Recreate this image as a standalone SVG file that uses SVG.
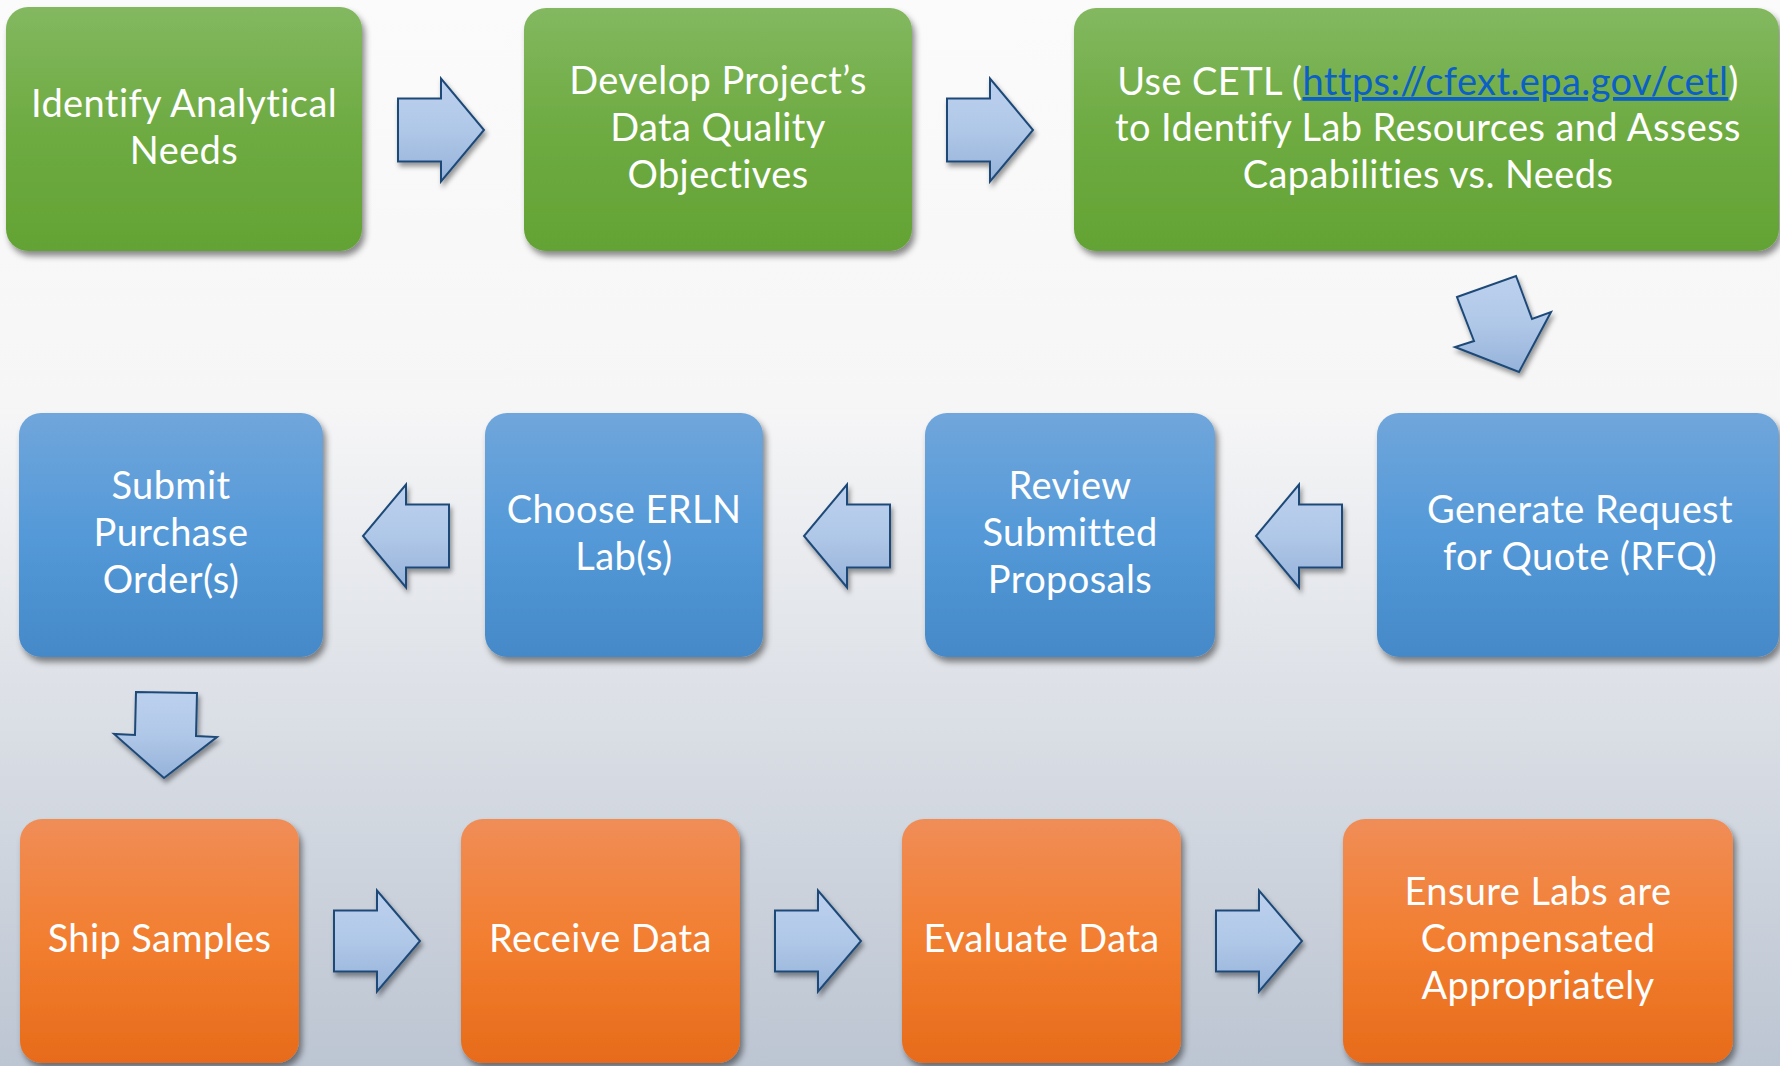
<svg xmlns="http://www.w3.org/2000/svg" width="1780" height="1066" viewBox="0 0 1780 1066">
<defs>
<linearGradient id="bg" x1="0" y1="0" x2="0" y2="1">
<stop offset="0" stop-color="#fbfbfb"/>
<stop offset="0.38" stop-color="#f6f6f7"/>
<stop offset="1" stop-color="#bcc5d2"/>
</linearGradient>
<linearGradient id="gGreen" x1="0" y1="0" x2="0" y2="1">
<stop offset="0" stop-color="#83b860"/>
<stop offset="0.5" stop-color="#6eab42"/>
<stop offset="1" stop-color="#63a334"/>
</linearGradient>
<linearGradient id="gBlue" x1="0" y1="0" x2="0" y2="1">
<stop offset="0" stop-color="#70a6db"/>
<stop offset="0.5" stop-color="#5499d8"/>
<stop offset="1" stop-color="#4589c8"/>
</linearGradient>
<linearGradient id="gOrange" x1="0" y1="0" x2="0" y2="1">
<stop offset="0" stop-color="#f08d57"/>
<stop offset="0.5" stop-color="#f27e30"/>
<stop offset="1" stop-color="#e76b1a"/>
</linearGradient>
<linearGradient id="gArrow" x1="0" y1="0" x2="0" y2="1">
<stop offset="0" stop-color="#bdd1ee"/>
<stop offset="0.5" stop-color="#b0c8e8"/>
<stop offset="1" stop-color="#95b2d9"/>
</linearGradient>
<filter id="shadow" x="-10%" y="-10%" width="125%" height="125%">
<feDropShadow dx="3" dy="5" stdDeviation="3" flood-color="#000" flood-opacity="0.45"/>
</filter>
<filter id="ashadow" x="-20%" y="-20%" width="150%" height="150%">
<feDropShadow dx="2" dy="4" stdDeviation="2.5" flood-color="#000" flood-opacity="0.4"/>
</filter>
</defs>
<style>
.box{filter:url(#shadow)}
.green{fill:url(#gGreen)}
.blue{fill:url(#gBlue)}
.orange{fill:url(#gOrange)}
.lbl{font-family:Lato,"Liberation Sans",sans-serif;font-size:38px;letter-spacing:0.4px;fill:#ffffff;text-anchor:middle}
.link{fill:#0b5fc6;text-decoration:underline}
.arrow{fill:url(#gArrow);stroke:#1f4a78;stroke-width:2;stroke-linejoin:miter;filter:url(#ashadow)}
</style>
<rect x="0" y="0" width="1780" height="1066" fill="url(#bg)"/>

<g id="connectors">
<polygon class="arrow" points="398,98.5 441,98.5 441,78.5 484,130 441,181.5 441,161.5 398,161.5"/>
<polygon class="arrow" points="947,98.5 990,98.5 990,78.5 1033,130 990,181.5 990,161.5 947,161.5"/>
<polygon class="arrow" points="1457,297 1516,276 1532,319 1551,312 1519,372 1455,347 1474,341"/>
<polygon class="arrow" points="1342,504.5 1299,504.5 1299,484.5 1256,536 1299,587.5 1299,567.5 1342,567.5"/>
<polygon class="arrow" points="890,504.5 847,504.5 847,484.5 804,536 847,587.5 847,567.5 890,567.5"/>
<polygon class="arrow" points="449,504.5 406,504.5 406,484.5 363,536 406,587.5 406,567.5 449,567.5"/>
<polygon class="arrow" points="136,692 197,693 196,736 217,737 164,778 114,734 135,735"/>
<polygon class="arrow" points="334,910.5 377,910.5 377,890.5 420,941 377,991.5 377,971.5 334,971.5"/>
<polygon class="arrow" points="775,910.5 818,910.5 818,890.5 861,941 818,991.5 818,971.5 775,971.5"/>
<polygon class="arrow" points="1216,910.5 1259,910.5 1259,890.5 1302,941 1259,991.5 1259,971.5 1216,971.5"/>
</g>

<g id="n1"><rect class="box green" x="6" y="7" width="356" height="244" rx="22"/>
<text class="lbl" x="184" y="117">Identify Analytical</text>
<text class="lbl" x="184" y="164">Needs</text></g>

<g id="n2"><rect class="box green" x="524" y="8" width="388" height="243" rx="22"/>
<text class="lbl" x="718" y="94">Develop Project’s</text>
<text class="lbl" x="718" y="141">Data Quality</text>
<text class="lbl" x="718" y="188">Objectives</text></g>

<g id="n3"><rect class="box green" x="1074" y="8" width="705" height="243" rx="22"/>
<text class="lbl" x="1428" y="95">Use CETL (<tspan class="link">https://cfext.epa.gov/cetl</tspan>)</text>
<text class="lbl" x="1428" y="141">to Identify Lab Resources and Assess</text>
<text class="lbl" x="1428" y="188">Capabilities vs. Needs</text></g>

<g id="n4"><rect class="box blue" x="19" y="413" width="304" height="244" rx="22"/>
<text class="lbl" x="171" y="499">Submit</text>
<text class="lbl" x="171" y="546">Purchase</text>
<text class="lbl" x="171" y="593">Order(s)</text></g>

<g id="n5"><rect class="box blue" x="485" y="413" width="278" height="244" rx="22"/>
<text class="lbl" x="624" y="523">Choose ERLN</text>
<text class="lbl" x="624" y="570">Lab(s)</text></g>

<g id="n6"><rect class="box blue" x="925" y="413" width="290" height="244" rx="22"/>
<text class="lbl" x="1070" y="499">Review</text>
<text class="lbl" x="1070" y="546">Submitted</text>
<text class="lbl" x="1070" y="593">Proposals</text></g>

<g id="n7"><rect class="box blue" x="1377" y="413" width="402" height="244" rx="22"/>
<text class="lbl" x="1580" y="523">Generate Request</text>
<text class="lbl" x="1580" y="570">for Quote (RFQ)</text></g>

<g id="n8"><rect class="box orange" x="20" y="819" width="279" height="244" rx="22"/>
<text class="lbl" x="159.5" y="952">Ship Samples</text></g>

<g id="n9"><rect class="box orange" x="461" y="819" width="279" height="244" rx="22"/>
<text class="lbl" x="600.5" y="952">Receive Data</text></g>

<g id="n10"><rect class="box orange" x="902" y="819" width="279" height="244" rx="22"/>
<text class="lbl" x="1041.5" y="952">Evaluate Data</text></g>

<g id="n11"><rect class="box orange" x="1343" y="819" width="390" height="244" rx="22"/>
<text class="lbl" x="1538" y="905">Ensure Labs are</text>
<text class="lbl" x="1538" y="952">Compensated</text>
<text class="lbl" x="1538" y="999">Appropriately</text></g>
</svg>
